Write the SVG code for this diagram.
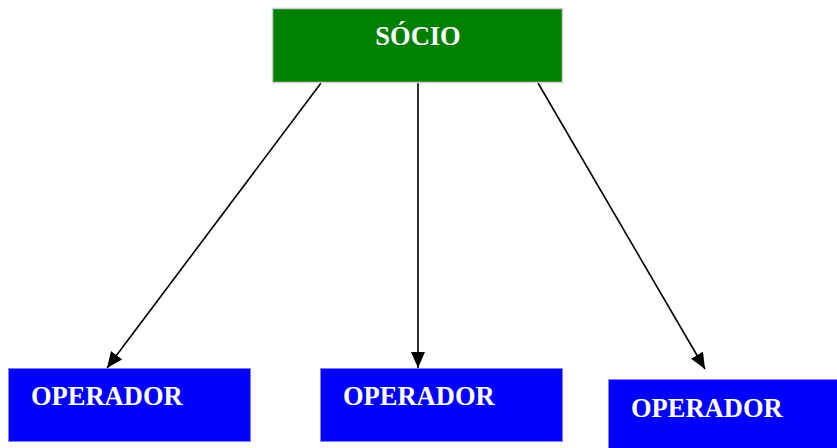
<svg xmlns="http://www.w3.org/2000/svg" width="837" height="448" viewBox="0 0 837 448">
<style>
.lbl{font-family:"Liberation Serif","Times New Roman",serif;font-weight:bold;font-size:26.5px;fill:#ffffff}
.op{fill:#0000ff;stroke:#7f7fff;stroke-width:1}
.conn{stroke:#000;stroke-width:1.6;fill:none;marker-end:url(#ah)}
</style>
<defs>
<marker id="ah" markerWidth="17" markerHeight="14" refX="16" refY="7" orient="auto" markerUnits="userSpaceOnUse">
<path d="M0,0 L16,7 L0,14 Z" fill="#000"/>
</marker>
</defs>
<rect width="837" height="448" fill="#fff"/>
<g id="connectors">
<line class="conn" x1="321" y1="83" x2="107" y2="368"/>
<line class="conn" x1="418" y1="83" x2="418" y2="368"/>
<line class="conn" x1="538" y1="83" x2="705" y2="369"/>
</g>
<g id="socio">
<rect x="272.5" y="8.5" width="290" height="74" fill="#008000" stroke="#d0d0d0" stroke-width="1.5"/>
<text class="lbl" x="418" y="45" text-anchor="middle">SÓCIO</text>
</g>
<g id="operador1">
<rect class="op" x="8.5" y="368.5" width="242" height="73"/>
<text class="lbl" x="31" y="405">OPERADOR</text>
</g>
<g id="operador2">
<rect class="op" x="320.5" y="368.5" width="242" height="73"/>
<text class="lbl" x="343" y="405">OPERADOR</text>
</g>
<g id="operador3">
<rect class="op" x="608.5" y="379.5" width="240" height="80"/>
<text class="lbl" x="631" y="417">OPERADOR</text>
</g>
</svg>
